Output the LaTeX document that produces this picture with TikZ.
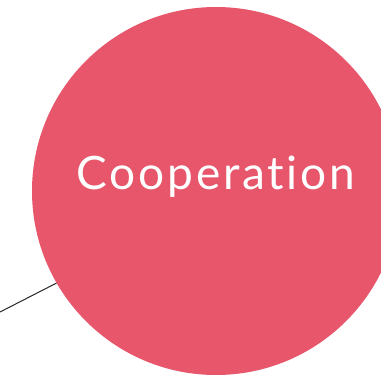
\documentclass[tikz,border=0pt]{standalone}
\usepackage{fontspec}
\setmainfont{Lato}[Ligatures=NoCommon]
\definecolor{coral}{RGB}{232,86,108}
\begin{document}
\begin{tikzpicture}[x=1pt,y=-1pt,
  bigcircle/.style={circle,fill=coral,minimum size=368pt,inner sep=0pt},
  label/.style={text=white,font=\fontsize{46}{50}\selectfont\addfontfeature{LetterSpace=6},anchor=base},
  link/.style={draw=black!85,line width=1pt}]
\useasboundingbox (0,0) rectangle (381,377);
\begin{scope}
\clip (0,0) rectangle (381,377);
\node[bigcircle] (c) at (216,191) {};
\node[label] (t) at (216,190) {Cooperation};
\coordinate (e) at (0,312);
\draw[link] (e) -- (c.{180+30});
\end{scope}
\end{tikzpicture}
\end{document}
